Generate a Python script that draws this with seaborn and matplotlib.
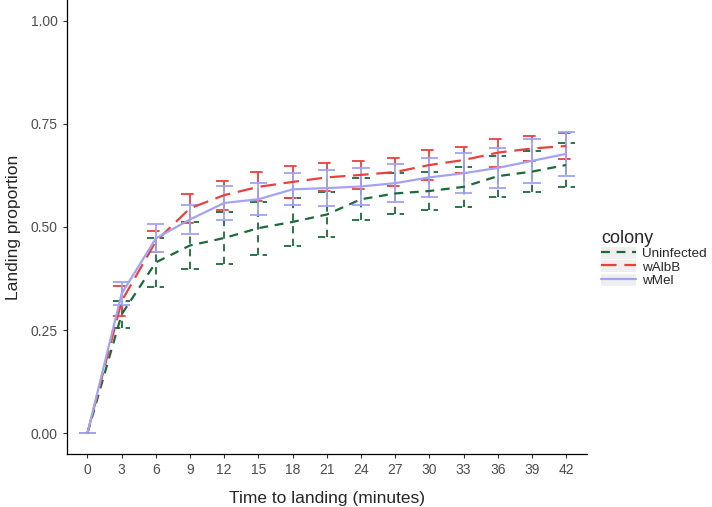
import numpy as np
import pandas as pd
import matplotlib
matplotlib.use("Agg")
import matplotlib.pyplot as plt
import seaborn as sns
from matplotlib.patches import Rectangle
from matplotlib.lines import Line2D

# Data
minutes = [0, 3, 6, 9, 12, 15, 18, 21, 24, 27, 30, 33, 36, 39, 42]
colonies = ["Uninfected", "wAlbB", "wMel"]

uninfected_mean = [0, 0.288, 0.414, 0.455, 0.473, 0.497, 0.512, 0.530, 0.567, 0.581, 0.587, 0.597, 0.623, 0.634, 0.650]
uninfected_se = [0, 0.032, 0.060, 0.057, 0.063, 0.064, 0.059, 0.055, 0.051, 0.050, 0.047, 0.049, 0.050, 0.050, 0.054]

walbb_mean = [0, 0.320, 0.465, 0.545, 0.577, 0.597, 0.609, 0.620, 0.626, 0.633, 0.650, 0.662, 0.680, 0.690, 0.696]
walbb_se = [0, 0.037, 0.025, 0.035, 0.035, 0.035, 0.038, 0.034, 0.034, 0.034, 0.036, 0.031, 0.034, 0.031, 0.031]

wmel_mean = [0, 0.338, 0.472, 0.518, 0.558, 0.567, 0.591, 0.594, 0.598, 0.606, 0.620, 0.630, 0.643, 0.660, 0.677]
wmel_se = [0, 0.028, 0.034, 0.036, 0.041, 0.039, 0.039, 0.044, 0.045, 0.046, 0.047, 0.048, 0.049, 0.054, 0.054]

means = {"Uninfected": uninfected_mean, "wAlbB": walbb_mean, "wMel": wmel_mean}
ses = {"Uninfected": uninfected_se, "wAlbB": walbb_se, "wMel": wmel_se}

rows = []
for c in colonies:
    for i, m in enumerate(minutes):
        rows.append({"pos": i, "minutes": m, "colony": c,
                     "mean": means[c][i], "se": ses[c][i]})
df = pd.DataFrame(rows)

colors = {"Uninfected": "#1b6a3a", "wAlbB": "#e8413f", "wMel": "#a3a3f2"}
dashes = {"Uninfected": (0, (4, 3)), "wAlbB": (0, (7, 3.5)), "wMel": "-"}
lw = 1.3

sns.set_style("white")
plt.rcParams["font.family"] = ["Liberation Sans", "DejaVu Sans"]

fig = plt.figure(figsize=(7.12, 5.07), dpi=100)
ax = fig.add_axes([0.094, 0.105, 0.73, 0.895])

# error bars, drawn with the colony's line type
cap = 0.25
for c in colonies:
    d = df[df["colony"] == c]
    lo = d["mean"] - d["se"]
    hi = d["mean"] + d["se"]
    ax.vlines(d["pos"], lo, hi, color=colors[c], linestyle=dashes[c], lw=lw, zorder=2)
    ax.hlines(lo, d["pos"] - cap, d["pos"] + cap, color=colors[c], linestyle=dashes[c], lw=lw, zorder=2)
    ax.hlines(hi, d["pos"] - cap, d["pos"] + cap, color=colors[c], linestyle=dashes[c], lw=lw, zorder=2)

for c in colonies:
    d = df[df["colony"] == c]
    sns.lineplot(data=d, x="pos", y="mean", color=colors[c], lw=lw + 0.3,
                 linestyle=dashes[c], ax=ax, zorder=3, legend=False)

ax.set_xlim(-0.6, 14.6)
ax.set_ylim(-0.05, 1.05)
ax.set_xticks(range(len(minutes)))
ax.set_xticklabels([str(m) for m in minutes])
ax.set_yticks([0, 0.25, 0.5, 0.75, 1.0])
ax.set_yticklabels(["0.00", "0.25", "0.50", "0.75", "1.00"])
ax.tick_params(axis="both", labelsize=10, labelcolor="#4d4d4d", color="#333333",
               length=3, width=0.8, left=True, bottom=True)
for s in ["top", "right"]:
    ax.spines[s].set_visible(False)
for s in ["left", "bottom"]:
    ax.spines[s].set_color("black")
    ax.spines[s].set_linewidth(0.9)

ax.set_xlabel("Time to landing (minutes)", fontsize=12.5, labelpad=10)
ax.set_ylabel("Landing proportion", fontsize=12.5, labelpad=7)

# legend with grey key backgrounds
handles = []
for c in colonies:
    bg = Rectangle((0, 0), 1, 1, facecolor="#efefef", edgecolor="none")
    ln = Line2D([], [], color=colors[c], linestyle=dashes[c], lw=lw + 0.3)
    handles.append((bg, ln))
leg = ax.legend(handles, colonies, title="colony", loc="upper left",
                bbox_to_anchor=(1.01, 0.515), frameon=False, fontsize=9.7,
                title_fontsize=13, handlelength=2.6, handleheight=1.0,
                labelspacing=0.0, handletextpad=0.4, borderpad=0.2)
leg._legend_box.align = "left"

fig.savefig("out.png", dpi=100)
